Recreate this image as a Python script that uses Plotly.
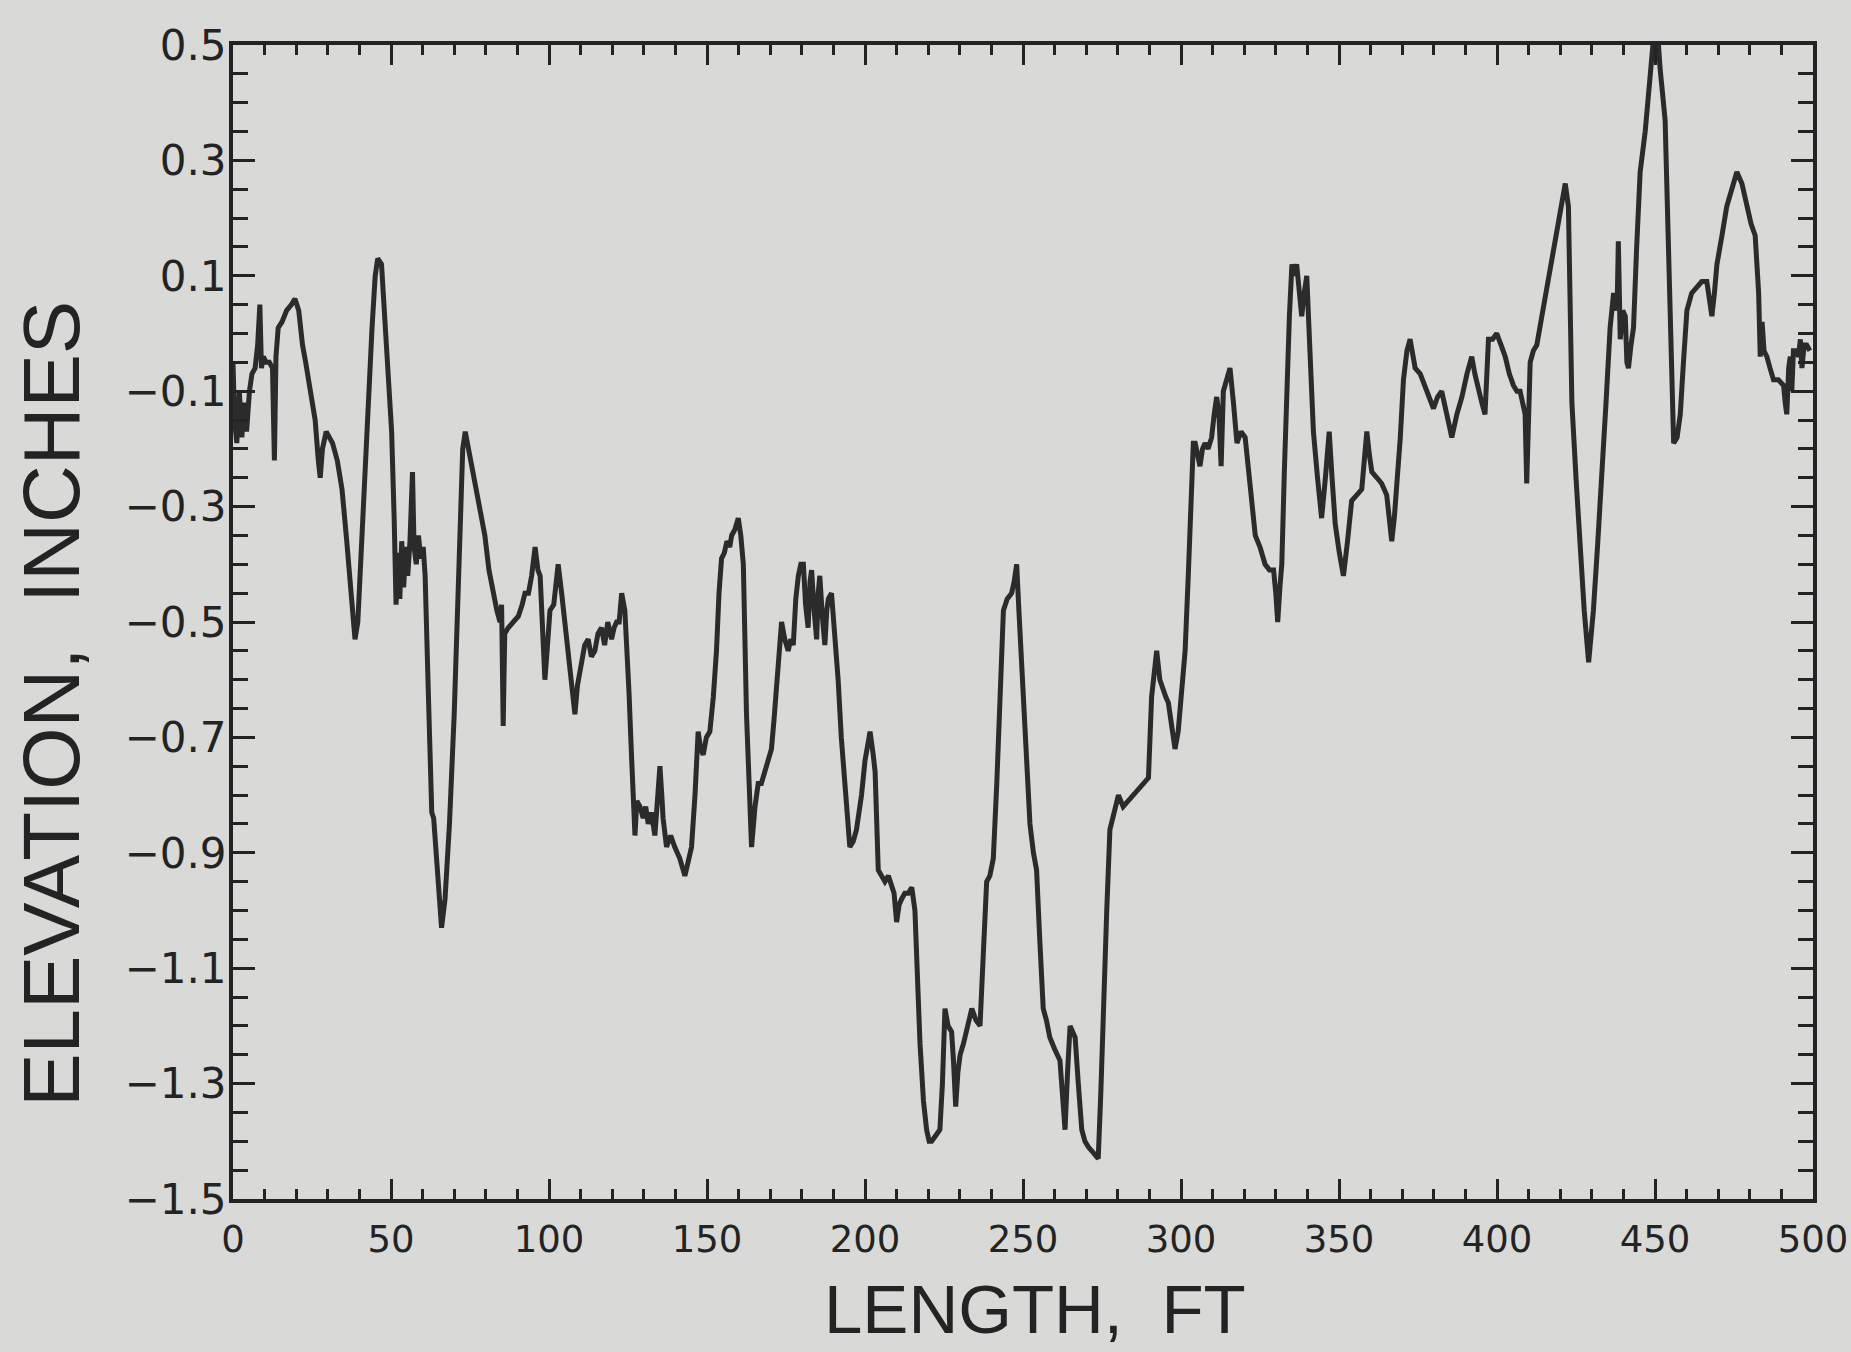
import plotly.graph_objects as go

# Profile data (length in ft, elevation in inches)
length_ft = [
    0, 0.5, 1.2, 2, 2.8, 3.5, 4.3, 5.2, 6, 7, 7.8, 8.5, 9.0, 9.6, 10.5, 11.5, 12.5, 13.1, 13.6, 14.3,
    15.5, 17, 18.5, 19.6, 20.8, 22, 23, 24.5, 26, 27, 27.6, 28.3, 29.5, 30.5, 31.5, 33, 34.5, 36, 37.3, 38.6,
    39.5, 40.5, 41.8, 43, 44, 45, 45.8, 47, 48, 49, 50.2, 51, 51.6, 52.2, 52.8, 53.4, 54, 54.7, 55.3, 56,
    56.8, 57.3, 58, 58.7, 59.4, 60.2, 60.8, 61.8, 62.9, 63.5, 64.5, 66.0, 67.1, 68.5, 70.0, 71.0, 72.0, 72.7, 73.5, 74.5,
    75.5, 77, 78.5, 79.7, 81, 82.5, 83.5, 84.5, 85, 85.5, 86, 87.1, 88.5, 90.3, 91.5, 92.4, 93.5, 94.5, 95.6, 96.5,
    97.2, 98, 98.7, 99.4, 100.3, 101.5, 102.9, 104, 105, 106.1, 107.3, 108.2, 109, 110.3, 111.3, 112.4, 113.4, 114.5, 115.5, 116.6,
    117.6, 118.6, 119.8, 120.6, 121.4, 122.2, 123, 124, 124.5, 125.3, 126.1, 127.2, 127.8, 128.8, 129.8, 130.6, 131.4, 132.4, 133.5, 134.3,
    135.1, 135.7, 136.1, 137.2, 138.5, 139.8, 141.4, 143, 144, 145.1, 146.2, 147.2, 148.0, 148.8, 149.8, 150.9, 152, 153, 153.8, 154.6,
    155.5, 156.3, 157.2, 157.8, 158.8, 159.9, 160.7, 161.5, 162.5, 163.3, 164.1, 165.2, 166.2, 167.2, 168.3, 169.4, 170.4, 171.2, 172, 172.8,
    173.6, 174.6, 175.7, 176.5, 177.3, 178.1, 178.9, 179.7, 180.5, 181.2, 182.0, 182.6, 183.1, 183.9, 184.7, 185.2, 185.7, 186.5, 187.3, 187.9,
    188.4, 189.4, 190.4, 191.5, 192.5, 193.6, 194.4, 195.2, 196.3, 197.3, 198.1, 198.9, 200, 201.0, 201.6, 202.6, 203.2, 204.2, 205.2, 206.3,
    207.4, 208.4, 209.2, 210, 210.8, 211.6, 212.6, 213.7, 214.8, 215.8, 216.6, 217.4, 218.5, 219.5, 220.3, 221.1, 222.4, 223.7, 224.5, 225.3,
    226.3, 227.4, 228.0, 228.7, 229.4, 230.1, 231.2, 232.5, 233.8, 235.1, 236.4, 237.4, 238.5, 239.5, 240.6, 241.7, 242.7, 243.8, 245, 246.4,
    247.2, 248, 248.7, 250.1, 251.2, 252.2, 253.3, 254.3, 255.3, 256.4, 257.4, 258.5, 260, 261.7, 262.5, 263.3, 264.1, 264.9, 265.7, 266.5,
    267.5, 268.6, 269.6, 270.7, 272.3, 273.8, 274.6, 275.4, 276.5, 277.5, 278.8, 280.2, 281.7, 283.3, 284.9, 286.5, 288.1, 289.7, 290.7, 291.5,
    292.3, 293.3, 294.4, 295.2, 296, 297, 298.1, 299.1, 300.2, 301.3, 302.3, 303.1, 303.9, 304.5, 305.3, 306, 306.8, 307.6, 308.6, 309.7,
    310.5, 311.3, 312.0, 312.7, 313.4, 314.5, 315.5, 316.6, 317.7, 319, 320.3, 322, 323.5, 325, 326.6, 328, 329.3, 330, 330.6, 331.3,
    331.9, 332.7, 333.5, 334.3, 335.1, 335.8, 336.6, 337.4, 338.2, 339, 339.8, 340.8, 341.9, 343.2, 344.5, 345.7, 346.9, 347.8, 348.8, 350.1,
    351.4, 352.7, 354, 355.6, 357.2, 358, 358.8, 359.6, 360.4, 362, 363.5, 364.3, 365.1, 365.9, 366.7, 367.5, 368.3, 369.4, 370.4, 371.5,
    372.5, 373.3, 374.1, 375.7, 377.2, 378.6, 379.9, 381.2, 382.5, 384.1, 385.7, 387.3, 388.9, 390.5, 392, 393, 394.1, 395.2, 396.2, 396.8,
    397.3, 398.6, 399.9, 401.3, 402.6, 403.9, 405.2, 406.3, 407.3, 408.1, 408.9, 409.4, 410.5, 411.5, 412.6, 414.2, 415.8, 417.3, 418.9, 420.2,
    421.6, 422.6, 423.2, 423.7, 425, 426.3, 427.6, 429, 430.5, 431.8, 433.2, 434.5, 435.8, 436.9, 437.5, 438.0, 438.4, 439, 439.8, 440.6,
    441.1, 441.6, 442.4, 443.2, 444.2, 445.3, 446.9, 448.2, 449.5, 450.6, 451.6, 453.2, 454.3, 455.1, 455.9, 457, 458, 459, 460.1, 461.6,
    463.2, 464.8, 466.4, 467.2, 468, 468.8, 469.6, 471.2, 472.7, 474.3, 475.9, 477.5, 479.1, 480.4, 481.7, 482.3, 482.8, 483.3, 483.9, 484.5,
    485.4, 486.4, 487.5, 489, 490.7, 491.2, 491.7, 492.3, 492.8, 493.3, 493.8, 494.6, 495.4, 496, 496.5, 497.2, 498, 499,
]

elevation_in = [
    -0.05, -0.15, -0.19, -0.10, -0.18, -0.12, -0.17, -0.10, -0.07, -0.06, -0.02, 0.05, -0.06, -0.04, -0.05, -0.05, -0.06, -0.22, -0.04, 0.01,
    0.02, 0.04, 0.05, 0.06, 0.04, -0.02, -0.05, -0.10, -0.15, -0.22, -0.25, -0.20, -0.17, -0.18, -0.19, -0.22, -0.27, -0.36, -0.44, -0.53,
    -0.50, -0.38, -0.22, -0.08, 0.01, 0.10, 0.13, 0.12, 0.02, -0.06, -0.17, -0.32, -0.47, -0.38, -0.46, -0.36, -0.44, -0.37, -0.42, -0.36,
    -0.24, -0.37, -0.40, -0.35, -0.39, -0.37, -0.42, -0.62, -0.83, -0.84, -0.93, -1.03, -0.98, -0.85, -0.66, -0.50, -0.30, -0.20, -0.17, -0.20,
    -0.22, -0.27, -0.31, -0.35, -0.41, -0.46, -0.48, -0.50, -0.47, -0.68, -0.52, -0.51, -0.50, -0.49, -0.47, -0.45, -0.45, -0.42, -0.37, -0.41,
    -0.42, -0.53, -0.60, -0.55, -0.48, -0.47, -0.40, -0.45, -0.50, -0.55, -0.60, -0.66, -0.61, -0.57, -0.54, -0.53, -0.56, -0.55, -0.52, -0.51,
    -0.54, -0.50, -0.53, -0.51, -0.50, -0.50, -0.45, -0.48, -0.53, -0.62, -0.73, -0.87, -0.81, -0.82, -0.84, -0.82, -0.85, -0.83, -0.87, -0.82,
    -0.75, -0.80, -0.84, -0.89, -0.87, -0.89, -0.91, -0.94, -0.92, -0.89, -0.80, -0.69, -0.72, -0.73, -0.70, -0.69, -0.63, -0.55, -0.45, -0.39,
    -0.38, -0.36, -0.37, -0.35, -0.34, -0.32, -0.35, -0.40, -0.66, -0.80, -0.89, -0.82, -0.78, -0.78, -0.76, -0.74, -0.72, -0.67, -0.62, -0.55,
    -0.50, -0.53, -0.55, -0.53, -0.54, -0.46, -0.42, -0.40, -0.40, -0.47, -0.51, -0.43, -0.41, -0.48, -0.53, -0.45, -0.42, -0.49, -0.54, -0.48,
    -0.46, -0.45, -0.52, -0.60, -0.70, -0.78, -0.85, -0.89, -0.88, -0.86, -0.83, -0.80, -0.74, -0.70, -0.69, -0.73, -0.76, -0.93, -0.94, -0.95,
    -0.94, -0.96, -0.97, -1.02, -0.99, -0.98, -0.97, -0.97, -0.96, -1.00, -1.12, -1.23, -1.33, -1.38, -1.40, -1.40, -1.39, -1.38, -1.30, -1.17,
    -1.20, -1.21, -1.26, -1.34, -1.28, -1.25, -1.23, -1.20, -1.17, -1.19, -1.20, -1.08, -0.95, -0.94, -0.91, -0.78, -0.63, -0.48, -0.46, -0.45,
    -0.43, -0.40, -0.48, -0.63, -0.76, -0.85, -0.90, -0.93, -1.05, -1.17, -1.19, -1.22, -1.24, -1.26, -1.32, -1.38, -1.28, -1.20, -1.21, -1.22,
    -1.30, -1.38, -1.40, -1.41, -1.42, -1.43, -1.32, -1.17, -1.00, -0.86, -0.83, -0.80, -0.82, -0.81, -0.80, -0.79, -0.78, -0.77, -0.63, -0.58,
    -0.55, -0.60, -0.62, -0.63, -0.64, -0.68, -0.72, -0.69, -0.63, -0.55, -0.42, -0.30, -0.19, -0.19, -0.21, -0.23, -0.20, -0.19, -0.20, -0.18,
    -0.14, -0.11, -0.14, -0.23, -0.10, -0.08, -0.06, -0.12, -0.19, -0.17, -0.18, -0.27, -0.35, -0.37, -0.40, -0.41, -0.41, -0.45, -0.50, -0.44,
    -0.40, -0.24, -0.08, 0.03, 0.12, 0.10, 0.12, 0.07, 0.03, 0.07, 0.10, -0.03, -0.17, -0.25, -0.32, -0.25, -0.17, -0.25, -0.33, -0.38,
    -0.42, -0.36, -0.29, -0.28, -0.27, -0.22, -0.17, -0.21, -0.24, -0.25, -0.26, -0.27, -0.28, -0.32, -0.36, -0.32, -0.27, -0.18, -0.08, -0.03,
    -0.01, -0.04, -0.06, -0.07, -0.09, -0.11, -0.13, -0.11, -0.10, -0.14, -0.18, -0.14, -0.11, -0.07, -0.04, -0.07, -0.10, -0.12, -0.14, -0.05,
    -0.01, -0.01, 0.00, -0.02, -0.04, -0.07, -0.09, -0.10, -0.10, -0.12, -0.14, -0.26, -0.05, -0.03, -0.02, 0.03, 0.08, 0.13, 0.18, 0.22,
    0.26, 0.22, 0.05, -0.12, -0.25, -0.38, -0.48, -0.57, -0.48, -0.37, -0.25, -0.12, 0.01, 0.07, 0.05, 0.04, 0.16, -0.01, 0.04, 0.03,
    -0.05, -0.06, -0.02, 0.01, 0.15, 0.28, 0.35, 0.43, 0.51, 0.54, 0.46, 0.37, 0.15, -0.05, -0.19, -0.18, -0.14, -0.05, 0.04, 0.07,
    0.08, 0.09, 0.09, 0.06, 0.03, 0.07, 0.12, 0.17, 0.22, 0.25, 0.28, 0.26, 0.22, 0.19, 0.17, 0.12, 0.07, -0.04, 0.02, -0.03,
    -0.04, -0.06, -0.08, -0.08, -0.09, -0.12, -0.14, -0.06, -0.04, -0.10, -0.03, -0.03, -0.04, -0.01, -0.06, -0.02, -0.02, -0.03,
]

y_tick_values = [0.5, 0.3, 0.1, -0.1, -0.3, -0.5, -0.7, -0.9, -1.1, -1.3, -1.5]
y_tick_labels = ["0.5", "0.3", "0.1", "\u22120.1", "\u22120.3", "\u22120.5", "\u22120.7",
                 "\u22120.9", "\u22121.1", "\u22121.3", "\u22121.5"]
x_tick_values = [0, 50, 100, 150, 200, 250, 300, 350, 400, 450, 500]
x_tick_labels = ["0", "50", "100", "150", "200", "250", "300", "350", "400", "450", "500"]

x_title = "LENGTH,\u00a0\u00a0FT"
y_title = "ELEVATION,\u00a0\u00a0INCHES"

BG = "#d9d9d7"
INK = "#232323"

fig = go.Figure()
fig.add_trace(go.Scatter(
    x=length_ft, y=elevation_in, mode="lines",
    line=dict(color="#2b2b2b", width=5),
    showlegend=False, hoverinfo="skip",
))

fig.update_layout(
    width=1851, height=1352,
    paper_bgcolor=BG, plot_bgcolor=BG,
    margin=dict(l=233, r=38, t=45, b=153),
    font=dict(family="DejaVu Sans", color=INK),
    showlegend=False,
)

fig.update_xaxes(
    range=[0, 500], showgrid=False, zeroline=False, automargin=False,
    showline=True, linecolor=INK, linewidth=4, mirror="ticks",
    ticks="inside", ticklen=20, tickwidth=3, tickcolor=INK,
    tickvals=x_tick_values, ticktext=x_tick_labels,
    tickfont=dict(family="DejaVu Sans", size=37, color=INK),
    ticklabelstandoff=5, ticklabeloverflow="allow",
    minor=dict(dtick=10, tick0=0, ticks="inside", ticklen=10, tickwidth=3, tickcolor=INK, showgrid=False),
)

fig.update_yaxes(
    range=[-1.5, 0.5], showgrid=False, zeroline=False, automargin=False,
    showline=True, linecolor=INK, linewidth=4, mirror="ticks",
    ticks="inside", ticklen=22, tickwidth=3, tickcolor=INK,
    tickvals=y_tick_values, ticktext=y_tick_labels,
    tickfont=dict(family="DejaVu Sans", size=42, color=INK),
    ticklabelstandoff=-6, ticklabeloverflow="allow",
    minor=dict(dtick=0.05, tick0=-1.5, ticks="inside", ticklen=15, tickwidth=3, tickcolor=INK, showgrid=False),
)

fig.add_annotation(
    text=y_title, textangle=-90, xref="paper", yref="paper",
    x=-0.1146, y=0.429, xanchor="center", yanchor="middle", showarrow=False,
    font=dict(family="Liberation Sans", size=80, color=INK),
)
fig.add_annotation(
    text=x_title, xref="paper", yref="paper",
    x=0.5076, y=-0.096, xanchor="center", yanchor="middle", showarrow=False,
    font=dict(family="Liberation Sans", size=69, color=INK),
)

fig.write_html("out.html")
